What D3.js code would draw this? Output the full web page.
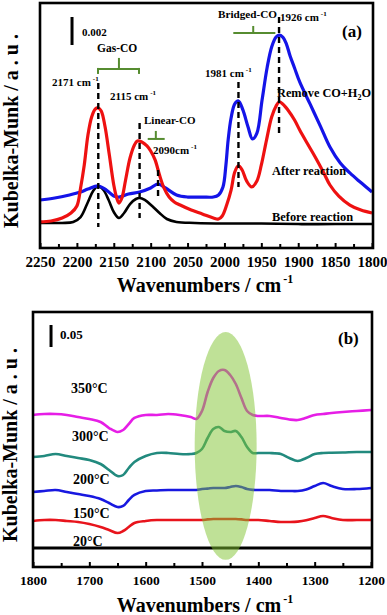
<!DOCTYPE html>
<html><head><meta charset="utf-8">
<script src="https://cdn.jsdelivr.net/npm/d3@7"></script>
<style>
html,body{margin:0;padding:0;background:#fff;}
svg text{font-family:"Liberation Serif","Times New Roman",serif;font-weight:bold;fill:#000;}
</style></head>
<body>
<svg id="c" width="387" height="615"></svg>
<script>
// ---------- Panel (a) data (units of 0.001 a.u.) ----------
const aTicks = [2250,2200,2150,2100,2050,2000,1950,1900,1850,1800];
const beforeW = [2250,2220,2205,2195,2185,2178,2171,2164,2157,2150,2143,2136,2128,2120,2115,2108,2098,2088,2078,2065,2040,2000,1950,1900,1850,1800];
const beforeV = [1.79,1.79,1.86,2.21,3.29,4.07,4.43,4.14,3.43,2.57,2.14,2.50,3.14,3.50,3.57,3.43,3.00,2.50,2.07,1.86,1.79,1.75,1.75,1.71,1.71,1.71];
const blueW = [2250,2230,2210,2195,2185,2171,2160,2150,2143,2130,2115,2100,2090,2080,2065,2050,2030,2015,2008,2002,1998,1995,1991,1986,1981,1975,1968,1962,1956,1949,1942,1936,1930,1926,1921,1916,1911,1905,1898,1884,1870,1857,1843,1830,1816,1800];
const blueV = [3.43,3.57,3.79,4.00,4.21,4.43,4.14,3.71,3.64,3.86,4.00,4.29,4.57,4.29,3.79,3.64,3.64,3.64,3.79,4.36,5.93,7.71,9.29,10.29,10.50,9.86,8.64,7.79,8.21,10.57,12.93,14.36,15.07,15.21,15.07,14.57,13.71,12.86,11.86,10.29,8.71,7.21,6.07,5.36,4.71,4.00];
const redW = [2250,2235,2220,2208,2200,2195,2190,2185,2180,2175,2171,2167,2162,2156,2150,2146,2143,2139,2134,2128,2122,2118,2112,2105,2100,2094,2088,2082,2075,2068,2060,2045,2030,2015,2008,2003,1997,1991,1986,1981,1976,1970,1963,1956,1950,1943,1936,1930,1926,1921,1914,1905,1898,1888,1877,1866,1857,1845,1830,1815,1800];
const redV = [1.86,1.93,2.14,2.50,3.00,4.29,5.93,8.07,9.36,9.93,10.00,9.79,8.71,6.64,4.50,3.57,3.21,3.57,4.86,6.43,7.36,7.64,7.57,7.29,6.93,6.29,5.21,4.29,3.64,3.29,3.07,2.71,2.43,2.14,2.07,2.29,3.07,4.14,5.43,5.86,5.57,4.79,4.36,4.79,5.93,7.71,9.36,10.14,10.43,10.29,9.86,9.14,8.43,7.50,6.50,5.43,4.50,3.71,3.07,2.71,2.50];
const peakW = [2171,2115,2090,1981,1926];
const peakTop = [11.79,8.93,5.57,11.86,16.5];
const peakBot = [1.5,2.14,3.57,4.36,8.21];

// ---------- Panel (b) data (units of 0.01 a.u.) ----------
const bTicks = [1800,1700,1600,1500,1400,1300,1200];
const bW = [1800,1780,1760,1740,1720,1700,1680,1665,1650,1640,1630,1620,1600,1580,1560,1540,1520,1510,1500,1490,1480,1470,1460,1450,1440,1430,1420,1410,1400,1380,1360,1345,1330,1315,1300,1285,1270,1250,1225,1200];
const t20  = [6.14,6.36,6.36,6.14,5.91,5.45,4.77,4.09,3.41,3.86,4.77,5.68,6.14,6.36,6.36,6.36,6.36,6.36,6.36,6.5,6.59,6.59,6.59,6.59,6.59,6.5,6.36,6.36,6.36,6.14,5.91,5.91,6.0,6.3,6.82,7.27,6.82,6.36,6.36,6.36];
const t150 = [12.73,12.95,13.18,12.73,12.27,11.82,11.14,10.23,9.32,9.55,10.91,12.05,12.95,13.07,13.18,13.18,13.18,13.18,13.41,13.5,13.64,13.64,13.64,13.86,14.09,13.86,13.41,13.2,13.18,13.18,12.95,12.95,12.95,13.3,14.09,14.77,14.09,13.41,13.41,13.64];
const t200 = [20.68,20.91,21.36,20.91,20.45,20.00,19.09,17.73,16.36,16.59,18.18,19.55,20.91,21.59,21.59,21.36,21.36,21.59,22.50,25.00,27.05,27.50,26.59,26.36,26.59,25.23,22.95,21.59,21.59,21.59,21.36,20.45,19.77,20.45,21.36,21.59,21.65,21.70,21.82,21.82];
const t350 = [30.23,30.45,30.45,30.23,29.77,29.32,28.64,27.27,26.36,26.82,28.18,29.55,30.23,30.23,30.45,30.23,29.77,29.32,31.14,35.45,38.64,40.23,40.45,39.32,37.27,34.09,31.14,30.23,30.00,30.00,29.55,29.2,29.09,29.6,30.23,30.45,30.68,30.91,31.14,31.36];
const zeroW = [1800,1200];
const zeroV = [0,0];
// highlight region (wavenumber centre, half-width, value top/bottom)
const hlCenter = 1458, hlHalf = 55, hlTop = 49.1, hlBottom = -2.7;

const svg = d3.select("#c");
const green = "rgb(86,140,48)";

// ===== Panel (a) =====
const xa = d3.scaleLinear().domain([2250,1800]).range([40,372]);
const ya = d3.scaleLinear().domain([0,17.5]).range([248,3]);
const la = d3.line().x(d=>xa(d[0])).y(d=>ya(d[1])).curve(d3.curveCatmullRom.alpha(0.5));
const zip = (w,v)=>w.map((x,i)=>[x,v[i]]);

const ga = svg.append("g");
ga.append("path").attr("d",la(zip(beforeW,beforeV))).attr("fill","none").attr("stroke","#000").attr("stroke-width",2.6);
ga.append("path").attr("d",la(zip(blueW,blueV))).attr("fill","none").attr("stroke","#1414e8").attr("stroke-width",3.2);
ga.append("path").attr("d",la(zip(redW,redV))).attr("fill","none").attr("stroke","#ee1111").attr("stroke-width",3.2);

peakW.forEach((w,i)=>{
  ga.append("line").attr("x1",xa(w)).attr("x2",xa(w)).attr("y1",ya(peakTop[i])).attr("y2",ya(peakBot[i]))
    .attr("stroke","#000").attr("stroke-width",2.4).attr("stroke-dasharray","6,4");
});

// brackets
function bracket(g,x,y,w1,w2,wc,yv,up,down,ends){
  g.append("line").attr("x1",x(w1)).attr("x2",x(w2)).attr("y1",y(yv)).attr("y2",y(yv)).attr("stroke",green).attr("stroke-width",2);
  g.append("line").attr("x1",x(wc)).attr("x2",x(wc)).attr("y1",y(yv)).attr("y2",y(yv)-up).attr("stroke",green).attr("stroke-width",2);
  if(ends){
    [w1,w2].forEach(w=>g.append("line").attr("x1",x(w)).attr("x2",x(w)).attr("y1",y(yv)-1).attr("y2",y(yv)+down).attr("stroke",green).attr("stroke-width",2));
  }
}
bracket(ga,xa,ya,2171.4,2115.8,2143,12.79,11,5,true);
bracket(ga,xa,ya,2104,2081,2093,7.79,8,0,false);
bracket(ga,xa,ya,1988,1931,1961,15.36,7,0,false);

// scale bar
ga.append("line").attr("x1",xa(2206.6)).attr("x2",xa(2206.6)).attr("y1",ya(16.5)).attr("y2",ya(14.5)).attr("stroke","#000").attr("stroke-width",3);

// axis
const axA = ga.append("g").attr("transform","translate(0,248)");
axA.call(d3.axisBottom(xa).tickValues(d3.range(2225,1800,-50)).tickSize(-4).tickFormat(""));
axA.call(g=>g.select(".domain").remove());
const axA2 = ga.append("g").attr("transform","translate(0,248)");
axA2.call(d3.axisBottom(xa).tickValues(aTicks).tickSize(-5).tickPadding(8).tickFormat(d3.format("d")));
axA2.select(".domain").remove();
ga.selectAll(".tick line").attr("stroke","#000").attr("stroke-width",2);
axA2.selectAll("text").style("font-size","15px").attr("font-family",null);
ga.append("rect").attr("x",40).attr("y",3).attr("width",333).attr("height",245).attr("fill","none").attr("stroke","#000").attr("stroke-width",2.6);

function label(g,x,y,txt,size,sup,supSize){
  const t=g.append("text").attr("x",x).attr("y",y).style("font-size",size+"px").text(txt);
  if(sup){t.append("tspan").attr("dx",2).attr("dy",-5).style("font-size",(supSize||7)+"px").text(sup);}
  return t;
}
label(ga,82,36,"0.002",11);
label(ga,97,52,"Gas-CO",11.5);
label(ga,52,86,"2171 cm",11,"-1");
label(ga,110,100,"2115 cm",11,"-1");
label(ga,144,124,"Linear-CO",11);
label(ga,153,154,"2090cm",11,"-1");
label(ga,218,18,"Bridged-CO",11.2);
label(ga,280,21,"1926 cm",11,"-1");
label(ga,205,77,"1981 cm",11,"-1");
label(ga,342,37,"(a)",17);
const rm = ga.append("text").attr("x",277).attr("y",97).style("font-size","12.3px").text("Remove CO+H");
rm.append("tspan").attr("dy",3).style("font-size","8px").text("2");
rm.append("tspan").attr("dy",-3).text("O");
label(ga,272,175,"After reaction",12.4);
label(ga,272,221,"Before reaction",12.4);

const xt = svg.append("text").attr("x",205).attr("y",292).attr("text-anchor","middle").style("font-size","20px").text("Wavenumbers / cm");
xt.append("tspan").attr("dy",-9).attr("dx",2).style("font-size","12px").text("-1");
svg.append("text").attr("transform","translate(18,131) rotate(-90)").attr("text-anchor","middle").style("font-size","20px").text("Kubelka-Munk / a . u .");

// ===== Panel (b) =====
const xb = d3.scaleLinear().domain([1800,1200]).range([33,371]);
const yb = d3.scaleLinear().domain([-4.32,53.64]).range([567,312]);
const lb = d3.line().x(d=>xb(d[0])).y(d=>yb(d[1])).curve(d3.curveCatmullRom.alpha(0.5));
const gb = svg.append("g");
gb.append("path").attr("d",lb(zip(zeroW,zeroV))).attr("fill","none").attr("stroke","#000").attr("stroke-width",2.8);
[[t20,"#e8141c"],[t150,"#1818e0"],[t200,"#228a7e"],[t350,"#e61ee6"]].forEach(([v,c])=>{
  gb.append("path").attr("d",lb(zip(bW,v))).attr("fill","none").attr("stroke",c).attr("stroke-width",2.6);
});
// highlight ellipse
gb.append("ellipse").attr("cx",xb(hlCenter)).attr("cy",(yb(hlTop)+yb(hlBottom))/2)
  .attr("rx",Math.abs(xb(hlCenter+hlHalf)-xb(hlCenter))).attr("ry",Math.abs(yb(hlBottom)-yb(hlTop))/2)
  .attr("fill","rgb(128,196,48)").attr("fill-opacity",0.5);

gb.append("line").attr("x1",xb(1768)).attr("x2",xb(1768)).attr("y1",yb(50.68)).attr("y2",yb(45.68)).attr("stroke","#000").attr("stroke-width",3);

const axB = gb.append("g").attr("transform","translate(0,567)");
axB.call(d3.axisBottom(xb).tickValues(d3.range(1750,1200,-100)).tickSize(-4).tickFormat(""));
axB.select(".domain").remove();
const axB2 = gb.append("g").attr("transform","translate(0,567)");
axB2.call(d3.axisBottom(xb).tickValues(bTicks).tickSize(-5).tickPadding(8).tickFormat(d3.format("d")));
axB2.select(".domain").remove();
gb.selectAll(".tick line").attr("stroke","#000").attr("stroke-width",2);
axB2.selectAll("text").style("font-size","13.5px").attr("font-family",null);
gb.append("rect").attr("x",33).attr("y",312).attr("width",339).attr("height",255).attr("fill","none").attr("stroke","#000").attr("stroke-width",2.6);

label(gb,60,339,"0.05",13);
label(gb,338,344,"(b)",17);
label(gb,71,393,"350°C",14);
label(gb,72,441,"300°C",14);
label(gb,73,484,"200°C",14);
label(gb,73,518,"150°C",14);
label(gb,73,546,"20°C",14);

const xt2 = svg.append("text").attr("x",205).attr("y",612).attr("text-anchor","middle").style("font-size","20px").text("Wavenumbers / cm");
xt2.append("tspan").attr("dy",-9).attr("dx",2).style("font-size","12px").text("-1");
svg.append("text").attr("transform","translate(17,445) rotate(-90)").attr("text-anchor","middle").style("font-size","20px").text("Kubelka-Munk / a . u .");
</script>
</body></html>
